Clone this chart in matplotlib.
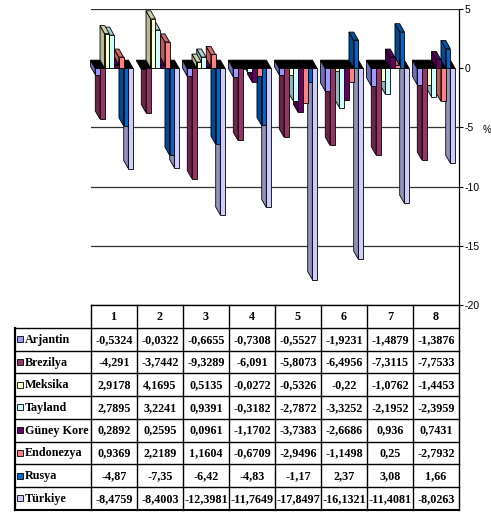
import numpy as np
import matplotlib
matplotlib.use('Agg')
from matplotlib import pyplot as plt
from matplotlib.patches import Polygon, Rectangle
from matplotlib.colors import to_rgb

plt.rcParams['axes.unicode_minus'] = False

# quarters and countries
periods = ['1', '2', '3', '4', '5', '6', '7', '8']
countries = ['Arjantin', 'Brezilya', 'Meksika', 'Tayland', 'Güney Kore',
             'Endonezya', 'Rusya', 'Türkiye']
colors = ['#9999FF', '#993366', '#FFFFCC', '#CCFFFF', '#660066',
          '#FF8080', '#0066CC', '#CCCCFF']

# values, one list per country
arjantin = [-0.5324, -0.0322, -0.6655, -0.7308, -0.5527, -1.9231, -1.4879, -1.3876]
brezilya = [-4.291, -3.7442, -9.3289, -6.091, -5.8073, -6.4956, -7.3115, -7.7533]
meksika = [2.9178, 4.1695, 0.5135, -0.0272, -0.5326, -0.22, -1.0762, -1.4453]
tayland = [2.7895, 3.2241, 0.9391, -0.3182, -2.7872, -3.3252, -2.1952, -2.3959]
guney_kore = [0.2892, 0.2595, 0.0961, -1.1702, -3.7383, -2.6686, 0.936, 0.7431]
endonezya = [0.9369, 2.2189, 1.1604, -0.6709, -2.9496, -1.1498, 0.25, -2.7932]
rusya = [-4.87, -7.35, -6.42, -4.83, -1.17, 2.37, 3.08, 1.66]
turkiye = [-8.4759, -8.4003, -12.3981, -11.7649, -17.8497, -16.1321, -11.4081, -8.0263]
series = [arjantin, brezilya, meksika, tayland, guney_kore, endonezya, rusya, turkiye]

# labels as printed in the table (comma decimals)
table_text = [['-0,5324', '-0,0322', '-0,6655', '-0,7308', '-0,5527', '-1,9231', '-1,4879', '-1,3876'],
              ['-4,291', '-3,7442', '-9,3289', '-6,091', '-5,8073', '-6,4956', '-7,3115', '-7,7533'],
              ['2,9178', '4,1695', '0,5135', '-0,0272', '-0,5326', '-0,22', '-1,0762', '-1,4453'],
              ['2,7895', '3,2241', '0,9391', '-0,3182', '-2,7872', '-3,3252', '-2,1952', '-2,3959'],
              ['0,2892', '0,2595', '0,0961', '-1,1702', '-3,7383', '-2,6686', '0,936', '0,7431'],
              ['0,9369', '2,2189', '1,1604', '-0,6709', '-2,9496', '-1,1498', '0,25', '-2,7932'],
              ['-4,87', '-7,35', '-6,42', '-4,83', '-1,17', '2,37', '3,08', '1,66'],
              ['-8,4759', '-8,4003', '-12,3981', '-11,7649', '-17,8497', '-16,1321', '-11,4081', '-8,0263']]

W, H = 491, 513
fig = plt.figure(figsize=(W / 100, H / 100), dpi=100)

# chart area in pixels
x0, x1 = 91, 459
y_top, y_bot = 9, 305
ax = fig.add_axes([x0 / W, (H - y_bot) / H, (x1 - x0) / W, (y_bot - y_top) / H])
ax.set_xlim(0, 8)
ax.set_ylim(-20, 5)

for g in [5, -5, -10, -15, -20]:
    ax.axhline(g, color='#333333', lw=0.9, zorder=0)

for s in ['top', 'left', 'bottom']:
    ax.spines[s].set_visible(False)
ax.spines['right'].set_linewidth(0.9)
ax.yaxis.tick_right()
ax.set_yticks([5, 0, -5, -10, -15, -20])
ax.set_yticklabels(['5', '0', '-5', '-10', '-15', '-20'], family='Liberation Sans', fontsize=7.5)
ax.tick_params(axis='y', direction='out', length=3, width=0.8, pad=1)
ax.set_xticks([])
ax.text(1.075, 0.59, '%', transform=ax.transAxes, fontsize=7, family='Liberation Sans',
        ha='center', va='center')

# pseudo 3D columns
bw = 0.103       # bar width in category units
off = 0.09       # left offset of first bar in a category
ddx = 0.1        # depth shift to the left
ddy = 0.68       # depth shift upward


def shade(c, f):
    r, g, b = to_rgb(c)
    return (r * f, g * f, b * f)


def column(x, v, c, z):
    edge = dict(edgecolor='black', lw=0.6, zorder=z, clip_on=False)
    side = Polygon([(x, 0), (x - ddx, ddy), (x - ddx, v + ddy), (x, v)],
                   facecolor=shade(c, 0.72), **edge)
    front = Rectangle((x, min(0, v)), bw, abs(v), facecolor=c, **edge)
    ax.add_patch(side)
    if v > 0:
        top = Polygon([(x, v), (x + bw, v), (x + bw - ddx, v + ddy), (x - ddx, v + ddy)],
                      facecolor=shade(c, 0.82), **edge)
        ax.add_patch(top)
    ax.add_patch(front)


for i in range(len(periods)):
    left = i + off
    right = i + off + bw * len(countries)
    slab = Polygon([(left, 0), (right, 0), (right - ddx, ddy), (left - ddx, ddy)],
                   facecolor='black', edgecolor='black', lw=0.6, zorder=3, clip_on=False)
    ax.add_patch(slab)
    for j in reversed(range(len(countries))):
        v = series[j][i]
        x = left + j * bw
        # negatives sit under the floor slab, positives stand on it
        column(x, v, colors[j], 2 + (7 - j) * 0.01 if v < 0 else 4 + (7 - j) * 0.01)

# data table drawn in pixel coordinates
tax = fig.add_axes([0, 0, 1, 1])
tax.set_xlim(0, W)
tax.set_ylim(H, 0)
tax.axis('off')

col_w = 46
lab_x = 15
head_top = 305
row_top = 328
row_h = 22.7
n_rows = len(countries)
bottom = row_top + n_rows * row_h
lc = 'black'
font = dict(family='Liberation Serif', weight='bold', fontsize=8.7)

tax.plot([x0, x1], [head_top, head_top], color=lc, lw=1.0)
for r in range(n_rows + 1):
    yy = row_top + r * row_h
    tax.plot([lab_x, x1], [yy, yy], color=lc, lw=1.5 if r == n_rows else 1.0)
tax.plot([lab_x, lab_x], [row_top, bottom], color=lc, lw=1.6)
for k in range(len(periods) + 1):
    xx = x0 + k * col_w
    tax.plot([xx, xx], [head_top, bottom], color=lc, lw=1.0)

for k, p in enumerate(periods):
    tax.text(x0 + (k + 0.5) * col_w, (head_top + row_top) / 2 + 0.5, p,
             ha='center', va='center', **font)

for r, name in enumerate(countries):
    yc = row_top + (r + 0.5) * row_h
    tax.add_patch(Rectangle((17, yc - 3), 6, 6, facecolor=colors[r], edgecolor='black', lw=0.6))
    tax.text(25, yc + 0.5, name, ha='left', va='center', **font)
    for k in range(len(periods)):
        tax.text(x0 + (k + 0.5) * col_w, yc + 0.5, table_text[r][k],
                 ha='center', va='center', **font)

fig.savefig('out.png', dpi=100)
